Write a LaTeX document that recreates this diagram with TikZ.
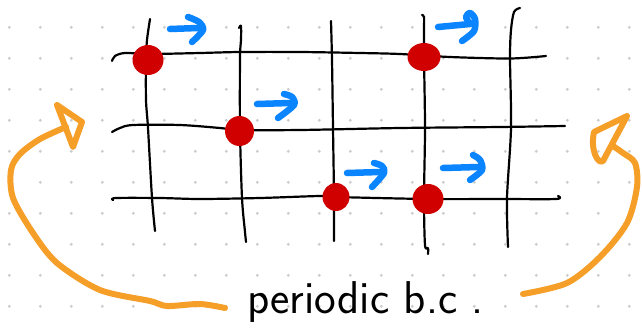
\documentclass[tikz,border=0pt]{standalone}
\usetikzlibrary{shapes.geometric}
\definecolor{dotgray}{RGB}{204,204,204}
\definecolor{redc}{RGB}{208,0,0}
\definecolor{bluec}{RGB}{10,132,255}
\definecolor{orangec}{RGB}{245,158,40}
\begin{document}
\begin{tikzpicture}[x=1pt,y=-1pt,
  gridline/.style={line width=2.2pt, line cap=round, line join=round},
  site/.style={ellipse, fill=redc, inner sep=0pt},
  spin/.style={draw=bluec, line width=6.5pt, line cap=round, line join=round},
  bcarrow/.style={draw=orangec, line width=6pt, line cap=round, line join=round}]
\useasboundingbox (0,0) rectangle (642,327);
\fill[white] (0,0) rectangle (642,327);
% dotted paper
\foreach \i in {0,...,20} \foreach \j in {0,...,9}
  \fill[dotgray] (9.3+31*\i, 27.3+31*\j) circle (1.6pt);
% vertical lines
\draw[gridline] plot[smooth] coordinates {(150,19) (147,40) (146,60) (146,100) (148,128) (152,198) (155,231)};
\draw[gridline] plot[smooth] coordinates {(239,28) (241,26) (241,40) (240,58) (240,130) (242,198) (245,232) (246,242)};
\draw[gridline] plot[smooth] coordinates {(331,21) (332,60) (333,128) (334,197) (334,241)};
\draw[gridline] plot[smooth] coordinates {(422,15) (424,17) (424,30) (424,57) (425,128) (424,199) (425,245) (428,248) (428,254)};
\draw[gridline] plot[smooth] coordinates {(520,8) (514,12) (511,30) (510,58) (511,128) (507,198) (508,247)};
% horizontal lines
\draw[gridline] plot[smooth] coordinates {(112,61) (115,56) (125,53) (150,54) (200,53) (240,52) (300,52) (360,53) (400,54) (450,57) (510,58.5) (546,56)};
\draw[gridline] plot[smooth] coordinates {(112,132) (120,128) (133,125) (180,125) (220,128) (239,130) (300,130) (400,128) (500,127) (565,126)};
\draw[gridline] plot[smooth] coordinates {(113,200) (116,198) (160,198) (200,199) (260,198) (320,196) (336,197) (428,199) (500,199) (556,199) (558,196)};
% sites
\node[site, minimum width=31pt, minimum height=30pt] (d1) at (148,60) {};
\node[site, minimum width=29pt, minimum height=30pt] (d2) at (239.5,131) {};
\node[site, minimum width=33pt, minimum height=28pt] (d3) at (424,57) {};
\node[site, minimum width=27pt, minimum height=28pt] (d4) at (336,197) {};
\node[site, minimum width=31pt, minimum height=30pt] (d5) at (428,199) {};
% spins
\draw[spin] (170,29) -- (198,28);
\draw[spin] plot[smooth] coordinates {(188,17) (199,22) (203,30) (192,42)};
\draw[spin] (257,104) -- (290,103);
\draw[spin] plot[smooth] coordinates {(284,94) (292,97) (294,105) (278,118)};
\draw[spin] (347,173) -- (380,172);
\draw[spin] plot[smooth] coordinates {(374,163) (382,166) (384,173) (372,187)};
\draw[spin] (443,168) -- (479,167);
\draw[spin] plot[smooth] coordinates {(473,155) (480,160) (482,170) (470,180)};
\draw[spin] (438,27) -- (470,24);
\draw[spin] plot[smooth] coordinates {(470,24) (466,17) (470,13) (475,19) (474,31) (462,41)};
% label
\node[anchor=base west, inner sep=0pt, font=\fontsize{46}{50}\selectfont\sffamily] (lbl) at (247,313) {periodic b.c .};
% periodic boundary arrows
\draw[bcarrow] plot[smooth] coordinates {(225,308) (200,304) (167,306) (150,301) (100,290) (57,263) (33,233) (13,198) (11,170) (20,154) (40,139) (66,127)};
\draw[bcarrow] (57,105) -- (82,122) -- (73,147) -- cycle;
\draw[bcarrow] plot[smooth] coordinates {(523,294) (567,283) (600,257) (627,223) (637,187) (635,163) (623,153) (613,146)};
\draw[bcarrow] (627,116) -- (594,132) .. controls (590,150) and (598,165) .. (603,161) -- cycle;
\end{tikzpicture}
\end{document}
